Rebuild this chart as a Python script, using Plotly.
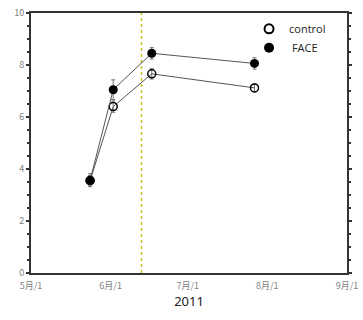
import plotly.graph_objects as go

dates = ["2011-05-24", "2011-06-02", "2011-06-17", "2011-07-27"]
control = [3.55, 6.40, 7.66, 7.12]
control_err = [0.2, 0.22, 0.2, 0.15]
face = [3.57, 7.05, 8.45, 8.06]
face_err = [0.25, 0.38, 0.22, 0.22]
vline_date = "2011-06-13"
xtick_vals = ["2011-05-01", "2011-06-01", "2011-07-01", "2011-08-01", "2011-09-01"]
xtick_text = ["5月/1", "6月/1", "7月/1", "8月/1", "9月/1"]
ytick_vals = [0, 2, 4, 6, 8, 10]

fig = go.Figure()
fig.add_trace(go.Scatter(
    x=[vline_date, vline_date], y=[0, 10], mode="lines",
    line=dict(color="#c8c020", width=1.5, dash="dot"),
    showlegend=False, hoverinfo="skip"))
fig.add_trace(go.Scatter(
    x=dates, y=control, name="control", mode="lines+markers",
    line=dict(color="#555555", width=1),
    marker=dict(symbol="circle-open", size=8, color="black", line=dict(width=1.5)),
    error_y=dict(type="data", array=control_err, color="#777777", thickness=1, width=2),
    showlegend=False))
fig.add_trace(go.Scatter(
    x=dates, y=face, name="FACE", mode="lines+markers",
    line=dict(color="#555555", width=1),
    marker=dict(symbol="circle", size=9, color="black"),
    error_y=dict(type="data", array=face_err, color="#777777", thickness=1, width=2),
    showlegend=False))
# legend-only entries (markers only, like the reference)
fig.add_trace(go.Scatter(
    x=[None], y=[None], name="control", mode="markers",
    marker=dict(symbol="circle-open", size=9, color="black", line=dict(width=2))))
fig.add_trace(go.Scatter(
    x=[None], y=[None], name=" FACE", mode="markers",
    marker=dict(symbol="circle", size=10, color="black")))

fig.update_layout(
    width=363, height=320,
    margin=dict(l=31, r=16, t=13, b=47, autoexpand=False),
    plot_bgcolor="white", paper_bgcolor="white",
    showlegend=True,
    legend=dict(x=0.69, y=0.995, xanchor="left", yanchor="top",
                bgcolor="rgba(0,0,0,0)", font=dict(family="Open Sans", size=11, color="#222"),
                itemwidth=30, tracegroupgap=0),
    font=dict(family="Noto Sans CJK JP", size=9, color="#777777"),
)
fig.update_xaxes(
    type="date", range=["2011-05-01", "2011-09-01"],
    tickvals=xtick_vals, ticktext=xtick_text, automargin=False,
    showline=True, linecolor="#333333", linewidth=2, mirror=True,
    ticks="", showgrid=False, zeroline=False, ticklabelstandoff=3,
    title=dict(text="2011", font=dict(family="Noto Sans", size=13, color="#222"), standoff=4),
    tickfont=dict(family="Noto Sans CJK JP", size=9, color="#808080"),
)
fig.update_yaxes(
    range=[0, 10], tickvals=ytick_vals, automargin=False,
    showline=True, linecolor="#333333", linewidth=2, mirror="ticks",
    ticks="outside", ticklen=3, tickcolor="#333333", tickwidth=1.5,
    minor=dict(dtick=0.5, ticks="outside", ticklen=2, tickcolor="#333333", tickwidth=1.5),
    showgrid=False, zeroline=False,
    tickfont=dict(family="Noto Sans CJK JP", size=9, color="#808080"),
)
fig.write_html("out.html", config={"displayModeBar": False},
               post_script="document.body.style.margin='0';document.body.style.overflow='hidden';")
